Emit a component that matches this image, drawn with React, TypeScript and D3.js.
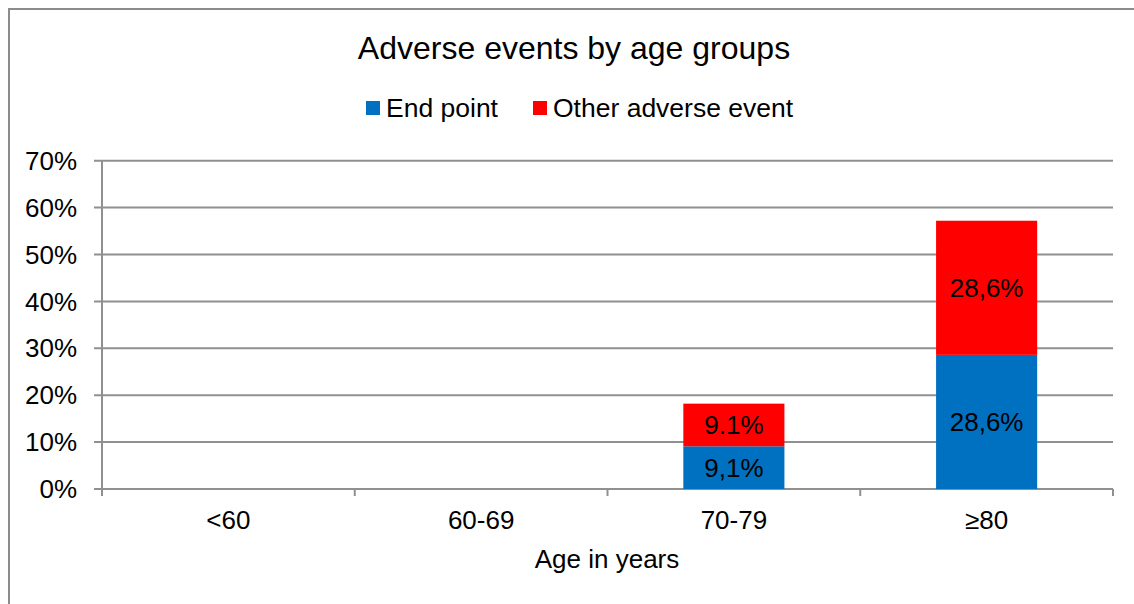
import * as d3 from "d3";

const ageGroups = ["<60", "60-69", "70-79", "≥80"];
const endPoint = [0, 0, 9.1, 28.6];
const otherEvent = [0, 0, 9.1, 28.6];
const endPointLabels = ["", "", "9,1%", "28,6%"];
const otherLabels = ["", "", "9.1%", "28,6%"];
const yTicks = [0, 10, 20, 30, 40, 50, 60, 70];

const W = 1134;
const H = 604;
const left = 102;
const right = 1113;
const top = 160.7;
const bottom = 489;
const font = "Arial, 'Liberation Sans', sans-serif";
const gridColor = "#909090";

export default function App() {
  const x = d3.scaleBand().domain(ageGroups).range([left, right]).paddingInner(0.6).paddingOuter(0.3);
  const band = d3.scaleBand().domain(ageGroups).range([left, right]);
  const y = d3.scaleLinear().domain([0, 70]).range([bottom, top]);

  const stacked = d3.stack<number>().keys(["end", "other"]).value((i, k) =>
    k === "end" ? endPoint[i] : otherEvent[i]
  )(ageGroups.map((_, i) => i));

  const colors = ["#0070C0", "#FF0000"];
  const labels = [endPointLabels, otherLabels];

  return (
    <svg
      width={W}
      height={H}
      style={{ position: "absolute", left: 0, top: 0 }}
      fontFamily={font}
    >
      <rect x={9} y={9} width={1300} height={800} fill="white" stroke="#8c8c8c" strokeWidth={2} />

      <text x={574} y={59} fontSize={32} textAnchor="middle">
        Adverse events by age groups
      </text>

      {/* legend */}
      <rect x={366} y={101} width={14} height={14} fill={colors[0]} />
      <text x={386} y={117} fontSize={26.5}>End point</text>
      <rect x={533} y={101} width={14} height={14} fill={colors[1]} />
      <text x={553} y={117} fontSize={26.5}>Other adverse event</text>

      {/* gridlines + y ticks */}
      {yTicks.map((t) => (
        <g key={t}>
          <line x1={94} x2={right} y1={y(t)} y2={y(t)} stroke={gridColor} strokeWidth={2} />
          <text x={77} y={y(t)} dy="0.35em" fontSize={26} textAnchor="end">
            {t}%
          </text>
        </g>
      ))}
      <line x1={left} x2={left} y1={top} y2={bottom + 7} stroke={gridColor} strokeWidth={2} />

      {/* category ticks */}
      {ageGroups.map((g) => (
        <line
          key={g}
          x1={band(g)! + band.bandwidth()}
          x2={band(g)! + band.bandwidth()}
          y1={bottom}
          y2={bottom + 7}
          stroke={gridColor}
          strokeWidth={2}
        />
      ))}

      {/* bars */}
      {stacked.map((s, si) =>
        s.map((d, i) => {
          const h = y(d[0]) - y(d[1]);
          if (h <= 0) return null;
          const g = ageGroups[i];
          return (
            <g key={si + "-" + i}>
              <rect x={x(g)} y={y(d[1])} width={x.bandwidth()} height={h} fill={colors[si]} />
              <text
                x={x(g)! + x.bandwidth() / 2}
                y={(y(d[0]) + y(d[1])) / 2}
                dy="0.35em"
                fontSize={26}
                textAnchor="middle"
              >
                {labels[si][i]}
              </text>
            </g>
          );
        })
      )}

      {/* category labels */}
      {ageGroups.map((g) => (
        <text key={g} x={band(g)! + band.bandwidth() / 2} y={529} fontSize={26} textAnchor="middle">
          {g}
        </text>
      ))}

      <text x={607} y={568} fontSize={26} textAnchor="middle">
        Age in years
      </text>
    </svg>
  );
}
